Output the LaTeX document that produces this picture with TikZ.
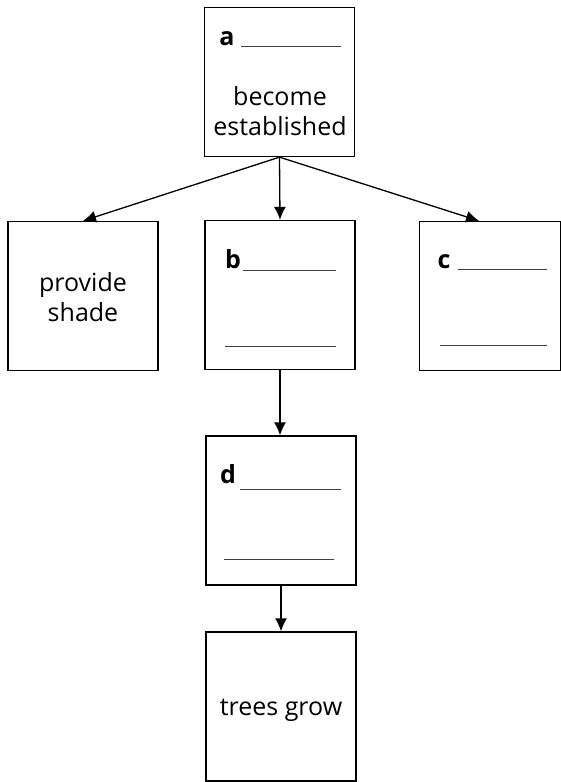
\documentclass[tikz,border=0pt]{standalone}
\usepackage{fontspec}
\setmainfont{Open Sans}
\usetikzlibrary{arrows.meta}

\begin{document}
\begin{tikzpicture}[x=0.5pt, y=-0.5pt, every node/.style={font=\fontsize{12.5}{15}\selectfont},
    box/.style={draw, line width=0.65pt, minimum width=75pt, minimum height=74.5pt, inner sep=0pt},
    blank/.style={draw=black!75, line width=0.5pt},
    lab/.style={anchor=base, font=\fontsize{12.5}{15}\selectfont\bfseries},
    arr/.style={-{Latex[length=6.5pt,width=6pt]}, line width=0.65pt}]
    \useasboundingbox (0,0) rectangle (561,782);

    % Kaesten
    \node[box] (a) at (279.5,82) {};
    \node[box] (shade) at (83,296) {};
    \node[box] (b) at (280,295) {};
    \node[box, minimum width=70.5pt] (c) at (490,296) {};
    \node[box] (d) at (281,510.5) {};
    \node[box] (grow) at (281,706.5) {};

    % Texte
    \node[lab] (la) at (227,45) {a};
    \node[align=center] (estab) at (280,111) {become\\established};
    \node[align=center] (prov) at (83,297) {provide\\shade};
    \node[lab] (lb) at (233,268) {b};
    \node[lab] (lc) at (444,268) {c};
    \node[lab] (ld) at (228,483) {d};
    \node[anchor=base] (trees) at (281,715) {trees grow};

    % Leerzeilen
    \draw[blank] (241,46) -- (341,46);
    \draw[blank] (243,270) -- (336,270);
    \draw[blank] (225,346) -- (336,346);
    \draw[blank] (458,269) -- (547,269);
    \draw[blank] (440,345) -- (547,345);
    \draw[blank] (240,489) -- (341,489);
    \draw[blank] (224,559) -- (334,559);

    % Pfeile
    \draw[arr] (a.south) -- (shade.north);
    \draw[arr] (a.south) -- (b.north);
    \draw[arr] (a.south) -- ([xshift=-5.5pt]c.north);
    \draw[arr] (b.south) -- (b.south |- d.north);
    \draw[arr] (d.south) -- (grow.north);
\end{tikzpicture}
\end{document}
